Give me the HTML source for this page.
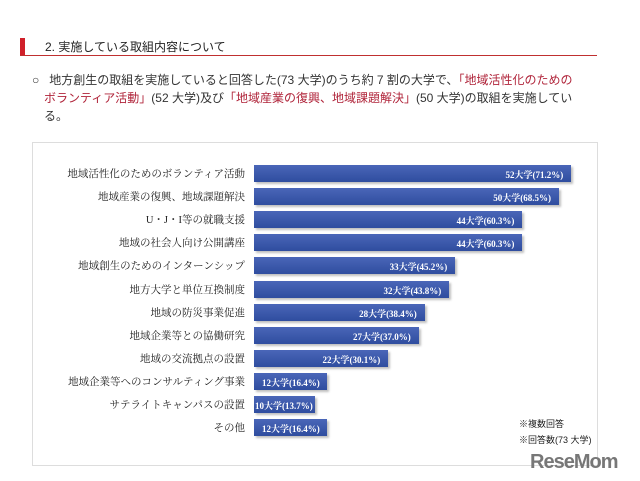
<!DOCTYPE html>
<html><head><meta charset="utf-8"><style>
body{margin:0;width:640px;height:481px;background:#fff;position:relative;overflow:hidden;font-family:"Liberation Sans","Noto Sans CJK JP",sans-serif;}
.abs{position:absolute;}
.lbl{position:absolute;right:395px;font-family:"Liberation Serif","Noto Serif CJK JP",serif;font-size:10.5px;color:#222;white-space:nowrap;}
.bar{position:absolute;background:linear-gradient(#4a66b8,#2f4d9f);box-shadow:2px 2px 2px rgba(0,0,0,0.25);}
.val{position:absolute;color:#fff;font-family:"Liberation Serif","Noto Serif CJK JP",serif;font-weight:bold;font-size:9px;white-space:nowrap;}
.red{color:#b0243a;}
</style></head><body>
<div class="abs" style="left:20px;top:38px;width:5px;height:18px;background:#d0202a"></div>
<div class="abs" style="left:20px;top:55px;width:577px;height:1px;background:#c03030"></div>
<div class="abs" style="left:45px;top:38px;font-size:12px;color:#222">2. 実施している取組内容について</div>
<div class="abs" style="left:32px;top:71px;width:560px;font-size:12px;line-height:18px;color:#333">○&nbsp;&nbsp;&nbsp;地方創生の取組を実施していると回答した(73 大学)のうち約 7 割の大学で、<span class="red">「地域活性化のための</span><br><span style="padding-left:12px"></span><span class="red">ボランティア活動」</span>(52 大学)及び<span class="red">「地域産業の復興、地域課題解決」</span>(50 大学)の取組を実施してい<br><span style="padding-left:12px"></span>る。</div>
<div class="abs" style="left:32px;top:142px;width:564px;height:322px;border:1px solid #ddd"></div>
<div id="chart"></div>
<div class="abs" style="left:519px;top:416px;font-size:9px;line-height:16px;color:#222">※複数回答<br>※回答数(73 大学)</div>
<div class="abs" style="left:530px;top:451px;font-size:20px;font-weight:bold;color:#777;letter-spacing:-1px;font-family:'Liberation Sans',sans-serif">ReseMom</div>
<script>
const categories=["地域活性化のためのボランティア活動","地域産業の復興、地域課題解決","U・J・I等の就職支援","地域の社会人向け公開講座","地域創生のためのインターンシップ","地方大学と単位互換制度","地域の防災事業促進","地域企業等との協働研究","地域の交流拠点の設置","地域企業等へのコンサルティング事業","サテライトキャンパスの設置","その他"];
const counts=[52,50,44,44,33,32,28,27,22,12,10,12];
const percents=["71.2","68.5","60.3","60.3","45.2","43.8","38.4","37.0","30.1","16.4","13.7","16.4"];
const x0=254,scale=6.1,y0=165,pitch=23.1,bh=17;
const c=document.getElementById('chart');
categories.forEach((cat,i)=>{
 const y=y0+i*pitch,w=counts[i]*scale;
 const l=document.createElement('div');l.className='lbl';l.style.top=(y+1)+'px';l.textContent=cat;
 
 
 c.appendChild(l);
 const b=document.createElement('div');b.className='bar';
 b.style.left=x0+'px';b.style.top=y+'px';b.style.width=w+'px';b.style.height=bh+'px';
 
 
 c.appendChild(b);
 const v=document.createElement('div');v.className='val';v.style.top=(y+3)+'px';
 v.textContent=counts[i]+'大学('+percents[i]+'%)';
 if(w>90){v.style.right=(640-x0-w+8)+'px';}else{v.style.left=(x0+(w>70?8:1))+'px';}
 
 
 c.appendChild(v);
});
</script>
</body></html>
